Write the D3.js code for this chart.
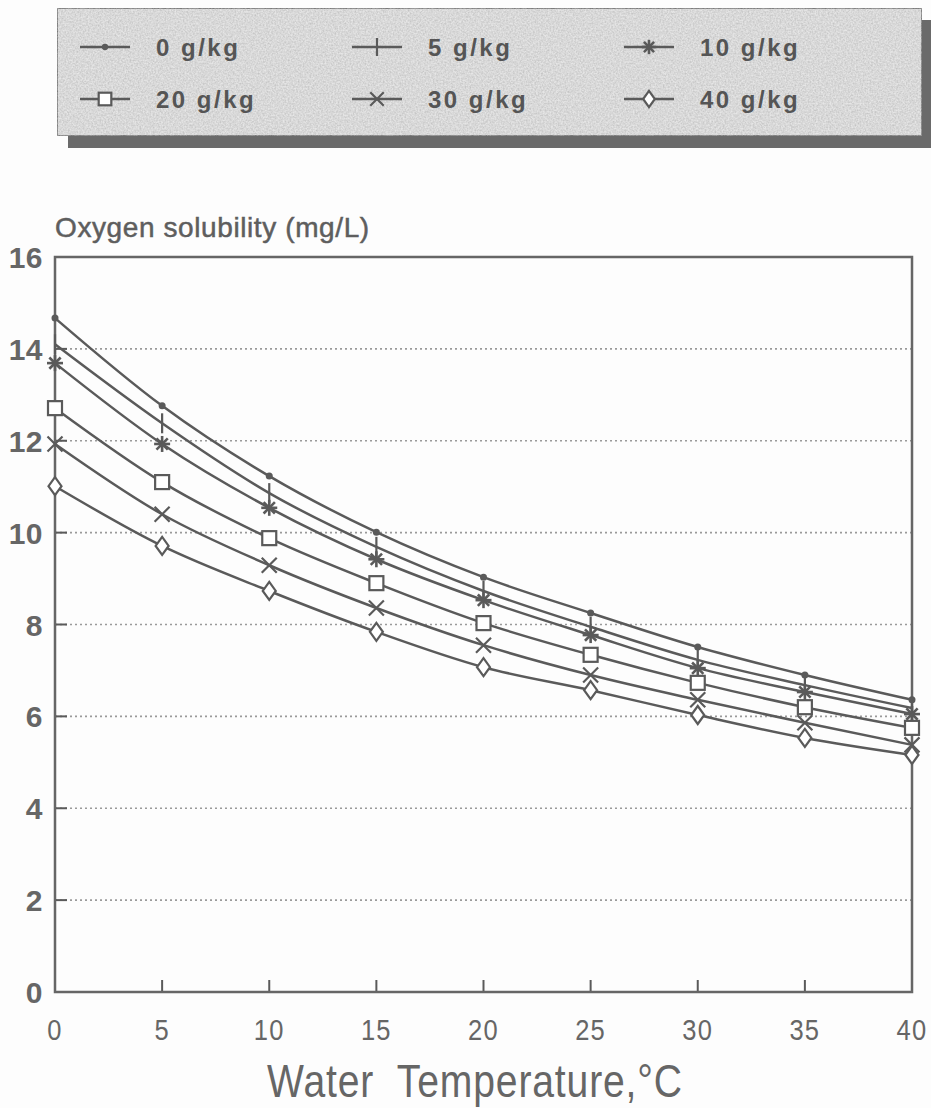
<!DOCTYPE html>
<html>
<head>
<meta charset="utf-8">
<script src="https://cdn.jsdelivr.net/npm/d3@7"></script>
<style>
  html, body { margin: 0; padding: 0; background: #fdfdfd; }
  svg { display: block; }
</style>
</head>
<body>
<svg id="chart" width="931" height="1108"></svg>
<script>
// ---- data ----
const temperatures = [0, 5, 10, 15, 20, 25, 30, 35, 40];
const seriesNames = ["0 g/kg", "5 g/kg", "10 g/kg", "20 g/kg", "30 g/kg", "40 g/kg"];
const sal0  = [14.67, 12.76, 11.23, 10.01, 9.03, 8.25, 7.51, 6.90, 6.36];
const sal5  = [14.10, 12.38, 10.86, 9.69, 8.73, 7.95, 7.23, 6.68, 6.18];
const sal10 = [13.69, 11.93, 10.54, 9.42, 8.53, 7.77, 7.05, 6.53, 6.05];
const sal20 = [12.71, 11.10, 9.88, 8.90, 8.03, 7.34, 6.73, 6.20, 5.75];
const sal30 = [11.93, 10.40, 9.29, 8.36, 7.55, 6.90, 6.36, 5.86, 5.38];
const sal40 = [11.01, 9.71, 8.73, 7.84, 7.07, 6.57, 6.03, 5.53, 5.16];
const markerTypes = ["dot", "bar", "star", "square", "cross", "diamond"];
const xTicks = [0, 5, 10, 15, 20, 25, 30, 35, 40];
const yTicks = [0, 2, 4, 6, 8, 10, 12, 14, 16];
const yTitle = "Oxygen solubility (mg/L)";
const xTitle = "Water  Temperature,°C";

const allSeries = [sal0, sal5, sal10, sal20, sal30, sal40];

// ---- layout ----
const svg = d3.select("#chart");
const m = { left: 55, right: 912, top: 257, bottom: 992 };
const x = d3.scaleLinear().domain([0, 40]).range([m.left, m.right]);
const y = d3.scaleLinear().domain([0, 16]).range([m.bottom, m.top]);

const ink = "#5a5a5a";
const FONT = "Liberation Sans, Arial, Helvetica, sans-serif";

// noise filter for legend background
const defs = svg.append("defs");
const f = defs.append("filter").attr("id", "grain").attr("x", 0).attr("y", 0).attr("width", 1).attr("height", 1);
f.append("feTurbulence").attr("type", "fractalNoise").attr("baseFrequency", 0.6).attr("numOctaves", 2).attr("seed", 3).attr("result", "noise");
f.append("feColorMatrix").attr("in", "noise").attr("type", "matrix")
  .attr("values", "0 0 0 0 0.45  0 0 0 0 0.45  0 0 0 0 0.45  0 0 0 -1.1 0.85").attr("result", "dots");
f.append("feComposite").attr("in", "dots").attr("in2", "SourceGraphic").attr("operator", "in").attr("result", "dots2");
f.append("feMerge").selectAll("feMergeNode").data(["SourceGraphic", "dots2"]).join("feMergeNode").attr("in", d => d);

// ---- legend ----
const lg = svg.append("g");
lg.append("rect").attr("x", 68).attr("y", 20).attr("width", 863).attr("height", 128).attr("fill", "#6a6a6a");
lg.append("rect").attr("x", 57).attr("y", 8).attr("width", 865).attr("height", 128)
  .attr("fill", "#e6e6e6").attr("stroke", "#7a7a7a").attr("stroke-width", 2).attr("filter", "url(#grain)");

const legCols = [80, 352, 624];
const legRows = [47, 99];
seriesNames.forEach((name, i) => {
  const col = i % 3, row = Math.floor(i / 3);
  const lx = legCols[col], ly = legRows[row];
  lg.append("line").attr("x1", lx).attr("x2", lx + 50).attr("y1", ly).attr("y2", ly)
    .attr("stroke", ink).attr("stroke-width", 2.5);
  drawMarker(lg, markerTypes[i], lx + 25, ly, 0.9);
  lg.append("text").attr("x", lx + 76).attr("y", ly + 9)
    .attr("font-family", FONT).attr("font-weight", "bold")
    .attr("font-size", 24).attr("letter-spacing", 2.5).attr("fill", "#555").text(name);
});

// ---- grid ----
const grid = svg.append("g");
grid.selectAll("line").data(yTicks.filter(t => t > 0 && t < 16)).join("line")
  .attr("x1", m.left).attr("x2", m.right).attr("y1", d => y(d)).attr("y2", d => y(d))
  .attr("stroke", "#9a9a9a").attr("stroke-width", 1.6).attr("stroke-dasharray", "2,3");

// y ticks inward
svg.append("g").selectAll("line").data(yTicks.filter(t => t > 0 && t < 16)).join("line")
  .attr("x1", m.left).attr("x2", m.left + 12).attr("y1", d => y(d)).attr("y2", d => y(d))
  .attr("stroke", ink).attr("stroke-width", 2);
// x ticks inward
svg.append("g").selectAll("line").data(xTicks.filter(t => t > 0 && t < 40)).join("line")
  .attr("x1", d => x(d)).attr("x2", d => x(d)).attr("y1", m.bottom).attr("y2", m.bottom - 12)
  .attr("stroke", ink).attr("stroke-width", 2);

// frame
svg.append("rect").attr("x", m.left).attr("y", m.top).attr("width", m.right - m.left).attr("height", m.bottom - m.top)
  .attr("fill", "none").attr("stroke", "#666").attr("stroke-width", 2.5);

// tick labels
svg.append("g").selectAll("text").data(yTicks).join("text")
  .attr("x", 43).attr("y", d => y(d) + 11).attr("text-anchor", "end")
  .attr("font-family", FONT).attr("font-size", 30).attr("font-weight", "bold")
  .attr("fill", "#666").attr("letter-spacing", 0.5).text(d => d);

svg.append("g").selectAll("text").data(xTicks).join("text")
  .attr("transform", d => `translate(${x(d)},1040) scale(0.85,1)`).attr("text-anchor", "middle")
  .attr("font-family", FONT).attr("font-size", 30)
  .attr("fill", "#666").attr("letter-spacing", 1.5).text(d => d);

// titles
svg.append("text").attr("x", 55).attr("y", 237)
  .attr("font-family", FONT).attr("font-size", 28)
  .attr("letter-spacing", 0.6).attr("fill", "#5e5e5e").attr("stroke", "#5e5e5e").attr("stroke-width", 0.5)
  .text(yTitle);

svg.append("text").attr("transform", "translate(475,1097) scale(0.85,1)").attr("text-anchor", "middle")
  .attr("font-family", FONT).attr("font-size", 46)
  .attr("fill", "#666").attr("letter-spacing", 1).style("white-space", "pre").text(xTitle);

// ---- series ----
const line = d3.line().x(d => x(d[0])).y(d => y(d[1])).curve(d3.curveMonotoneX);
const plot = svg.append("g");
allSeries.forEach((vals, i) => {
  const pts = temperatures.map((t, k) => [t, vals[k]]);
  plot.append("path").attr("d", line(pts)).attr("fill", "none").attr("stroke", ink).attr("stroke-width", 2.5);
});
allSeries.forEach((vals, i) => {
  temperatures.forEach((t, k) => drawMarker(plot, markerTypes[i], x(t), y(vals[k]), 1));
});

function drawMarker(g, type, cx, cy, s) {
  const st = { stroke: ink, "stroke-width": 2.2, fill: "none" };
  const apply = sel => { Object.entries(st).forEach(([k, v]) => sel.attr(k, v)); return sel; };
  if (type === "dot") {
    g.append("circle").attr("cx", cx).attr("cy", cy).attr("r", 3.5 * s).attr("fill", ink);
  } else if (type === "bar") {
    apply(g.append("line").attr("x1", cx).attr("x2", cx).attr("y1", cy - 10 * s).attr("y2", cy + 10 * s));
  } else if (type === "star") {
    const r = 8 * s;
    [0, 45, 90, 135].forEach(a => {
      const rad = a * Math.PI / 180;
      apply(g.append("line").attr("x1", cx - r * Math.cos(rad)).attr("x2", cx + r * Math.cos(rad))
        .attr("y1", cy - r * Math.sin(rad)).attr("y2", cy + r * Math.sin(rad))).attr("stroke-width", 2.6);
    });
  } else if (type === "square") {
    const h = 7 * s;
    apply(g.append("rect").attr("x", cx - h).attr("y", cy - h).attr("width", 2 * h).attr("height", 2 * h))
      .attr("fill", "#fff");
  } else if (type === "cross") {
    const r = 7.5 * s;
    apply(g.append("path").attr("d", `M${cx - r},${cy - r}L${cx + r},${cy + r}M${cx - r},${cy + r}L${cx + r},${cy - r}`));
  } else if (type === "diamond") {
    const w = 6.5 * s, h = 9 * s;
    apply(g.append("path").attr("d", `M${cx},${cy - h}L${cx + w},${cy}L${cx},${cy + h}L${cx - w},${cy}Z`))
      .attr("fill", "#fff");
  }
}
</script>
</body>
</html>
